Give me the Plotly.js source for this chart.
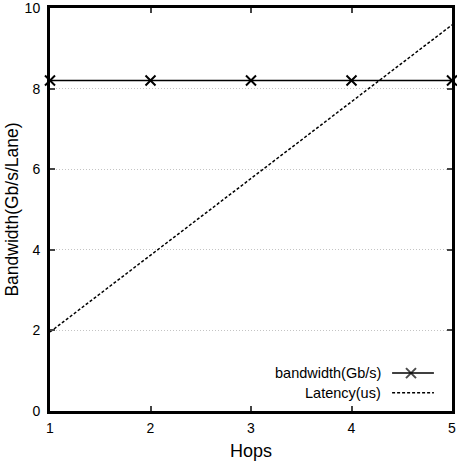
<!DOCTYPE html>
<html><head><meta charset="utf-8">
<script src="https://cdn.plot.ly/plotly-3.0.1.min.js"></script>
<style>html,body{margin:0;padding:0;background:#fff}#c{width:457px;height:465px}</style>
</head><body><div id="c"></div>
<script>
const hops = [1, 2, 3, 4, 5];
const bandwidth = [8.2, 8.2, 8.2, 8.2, 8.2];
const latency = [1.96, 3.86, 5.77, 7.67, 9.58];
const xTicks = [1, 2, 3, 4, 5];
const yTicks = [0, 2, 4, 6, 8, 10];
const seriesNames = ['bandwidth(Gb/s)', 'Latency(us)'];

const font = 'Liberation Sans, Arial, sans-serif';
const traces = [
  {x: hops, y: latency, mode: 'lines', line: {color: '#000', width: 1.5, dash: '3px,2px'}, showlegend: false, hoverinfo: 'skip'},
  {x: hops, y: bandwidth, mode: 'lines+markers', line: {color: '#000', width: 1.5},
   marker: {symbol: 'x-thin', size: 10, line: {color: '#000', width: 2}}, cliponaxis: false, showlegend: false},
  {x: [0.851, 0.898, 0.955], y: [0.094, 0.094, 0.094], xaxis: 'x2', yaxis: 'y2', mode: 'lines+markers',
   line: {color: '#000', width: 1.5}, marker: {symbol: 'x-thin', size: [0, 10, 0], line: {color: '#000', width: 2}}, showlegend: false},
  {x: [0.851, 0.955], y: [0.045, 0.045], xaxis: 'x2', yaxis: 'y2', mode: 'lines',
   line: {color: '#000', width: 1.5, dash: '3px,2px'}, showlegend: false}
];
const layout = {
  width: 457, height: 465,
  margin: {l: 50, r: 5, t: 8, b: 54},
  paper_bgcolor: '#fff', plot_bgcolor: '#fff',
  font: {family: font, color: '#000', size: 14},
  showlegend: false,
  xaxis: {range: [1, 5], tickvals: xTicks, ticktext: xTicks.map(String), showline: true, linewidth: 3, linecolor: '#000',
    mirror: 'ticks', ticks: 'inside', ticklen: 5, tickwidth: 2, showgrid: false, zeroline: false, ticklabelstandoff: 2,
    ticklabeloverflow: 'allow', title: {text: 'Hops', font: {size: 18}, standoff: 10}, tickfont: {size: 14}},
  yaxis: {range: [0, 10], tickvals: yTicks, ticktext: yTicks.map(String), showline: true, linewidth: 3, linecolor: '#000',
    mirror: 'ticks', ticks: 'inside', ticklen: 5, tickwidth: 2, showgrid: true, gridcolor: '#c4c4c4', griddash: '1px,2px', gridwidth: 1,
    zeroline: false, ticklabelstandoff: 4, ticklabeloverflow: 'allow',
    title: {text: 'Bandwidth(Gb/s/Lane)', font: {size: 17.5}, standoff: 2}, tickfont: {size: 14}},
  xaxis2: {overlaying: 'x', range: [0, 1], visible: false},
  yaxis2: {overlaying: 'y', range: [0, 1], visible: false},
  annotations: [
    {xref: 'paper', yref: 'paper', x: 0.829, y: 0.094, xanchor: 'right', yanchor: 'middle', text: seriesNames[0], showarrow: false, font: {size: 14.5}},
    {xref: 'paper', yref: 'paper', x: 0.829, y: 0.045, xanchor: 'right', yanchor: 'middle', text: seriesNames[1], showarrow: false, font: {size: 14.5}}
  ]
};
Plotly.newPlot('c', traces, layout, {displayModeBar: false, staticPlot: true});
</script></body></html>
